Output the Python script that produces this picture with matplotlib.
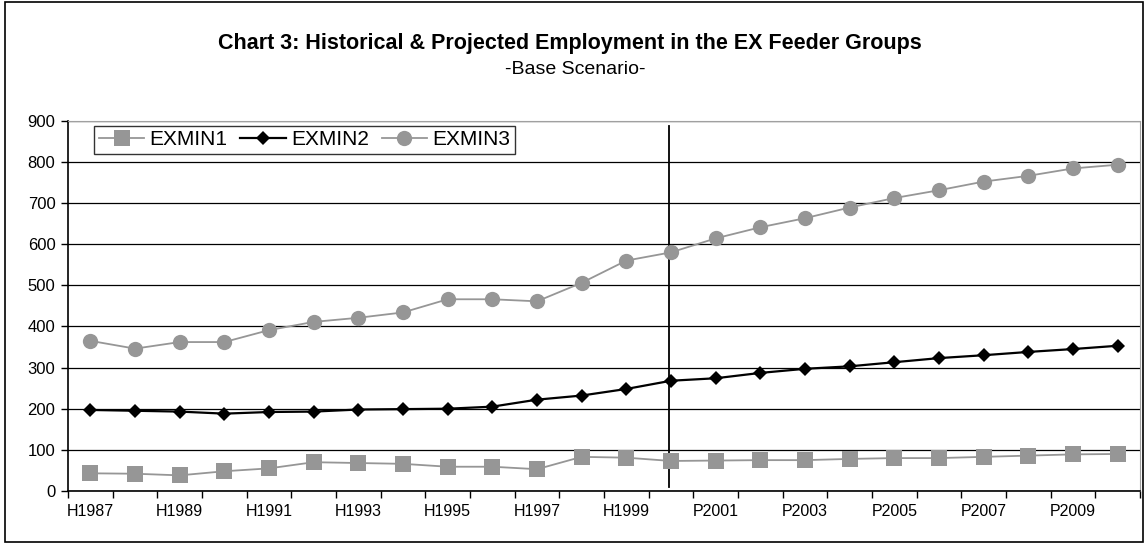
import matplotlib
matplotlib.use('Agg')
import matplotlib.pyplot as plt
import numpy as np

#data
years = list(range(1987, 2011))
labels = [('H' if y <= 2000 else 'P') + str(y) for y in years]
exmin1 = [43, 42, 38, 48, 55, 70, 68, 66, 59, 59, 53, 83, 81, 73, 74, 75, 75, 78, 80, 80, 83, 86, 89, 90]
exmin2 = [197, 195, 193, 188, 192, 193, 198, 199, 200, 205, 222, 232, 248, 268, 274, 287, 297, 303, 313, 323, 330, 338, 345, 353]
exmin3 = [365, 346, 362, 362, 391, 411, 421, 434, 466, 466, 461, 506, 560, 580, 614, 641, 663, 689, 712, 731, 752, 766, 784, 793]
split_year = 2000

plt.rcParams['font.family'] = ['Liberation Sans', 'DejaVu Sans']

fig = plt.figure(figsize=(11.46, 5.44), dpi=100)
ax = fig.add_axes([68/1146, 1-491/544, (1140-68)/1146, (491-120.7)/544])

x = np.arange(len(years))
gray = '#969696'
ax.plot(x, exmin1, color=gray, lw=1.3, marker='s', markersize=11, markeredgewidth=0, label='EXMIN1', zorder=3)
ax.plot(x, exmin2, color='k', lw=1.6, marker='D', markersize=7.5, markeredgewidth=0, label='EXMIN2', zorder=4)
ax.plot(x, exmin3, color=gray, lw=1.3, marker='o', markersize=11, markeredgewidth=0, label='EXMIN3', zorder=3)

#historical / projected split
xs = years.index(split_year) - 0.05
ax.plot([xs, xs], [10, 888], color='k', lw=1.3, zorder=2)

ax.set_xlim(-0.5, len(years) - 0.5)
ax.set_ylim(0, 900)
ax.set_yticks(np.arange(0, 901, 100))
ax.set_xticks(x[::2])
ax.set_xticklabels(labels[::2])
ax.set_xticks(np.arange(-0.5, len(years), 1), minor=True)
ax.tick_params(axis='x', which='major', length=0, pad=9, labelsize=11.5)
ax.tick_params(axis='x', which='minor', length=5, width=1, direction='out')
ax.tick_params(axis='y', length=5, width=1, direction='out', labelsize=12, pad=4)
ax.yaxis.grid(True, color='k', lw=0.9)
ax.set_axisbelow(True)
for s in ['top', 'right']:
    ax.spines[s].set_color('#a0a0a0')
ax.spines['left'].set_linewidth(1.2)
ax.spines['bottom'].set_linewidth(1.2)

leg = ax.legend(loc='upper left', ncol=3, bbox_to_anchor=(26/1072, 0.986), fontsize=15,
                frameon=True, fancybox=False, edgecolor='k', handlelength=2.2,
                handletextpad=0.25, columnspacing=0.6, borderpad=0.22, borderaxespad=0)
leg.get_frame().set_linewidth(1)

fig.text(0.497, 1-43/544, 'Chart 3: Historical & Projected Employment in the EX Feeder Groups',
         ha='center', va='center', fontsize=15.5, fontweight='bold')
fig.text(0.502, 1-69/544, '-Base Scenario-', ha='center', va='center', fontsize=14)

#outer frame
fig.patches.append(plt.Rectangle((5/1146, 2/544), 1138/1146, 540/544, transform=fig.transFigure,
                                 fill=False, edgecolor='k', lw=1.2))

plt.savefig('out.png', dpi=100)
